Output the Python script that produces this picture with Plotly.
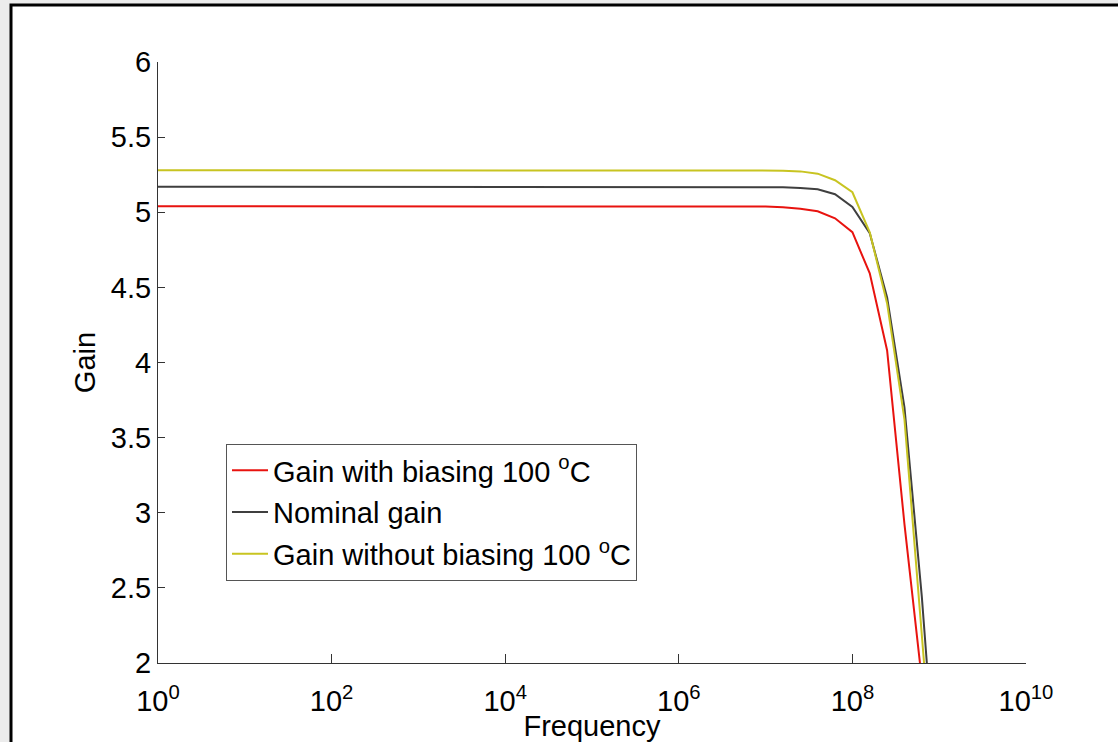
import plotly.graph_objects as go

# ---- data ----
freq = [1e0, 1e1, 1e2, 1e3, 1e4, 1e5, 1e6, 1e7,
        1.585e7, 2.512e7, 3.981e7, 6.310e7, 1e8,
        1.585e8, 2.512e8, 3.981e8, 6.310e8, 1e9]

gain_biasing = [5.04, 5.04, 5.04, 5.04, 5.04, 5.04, 5.04, 5.038,
                5.033, 5.023, 5.007, 4.96, 4.867,
                4.593, 4.08, 2.923, 1.887, 0.8]

gain_nominal = [5.17, 5.169, 5.169, 5.168, 5.168, 5.168, 5.168, 5.168,
                5.167, 5.162, 5.153, 5.12, 5.035,
                4.86, 4.433, 3.70, 2.44, 0.91]

gain_no_bias = [5.28, 5.28, 5.28, 5.28, 5.28, 5.28, 5.28, 5.28,
                5.277, 5.272, 5.257, 5.213, 5.133,
                4.867, 4.393, 3.62, 2.287, 0.75]

names = ["Gain with biasing 100 <sup>o</sup>C",
         "Nominal gain",
         "Gain without biasing 100 <sup>o</sup>C"]
colors = ["#e8130f", "#3f3f3f", "#c8c421"]

xtick_vals = [1e0, 1e2, 1e4, 1e6, 1e8, 1e10]
xtick_text = ["10<sup>0</sup>", "10<sup>2</sup>", "10<sup>4</sup>",
              "10<sup>6</sup>", "10<sup>8</sup>", "10<sup>10</sup>"]
ytick_vals = [2, 2.5, 3, 3.5, 4, 4.5, 5, 5.5, 6]
ytick_text = ["2", "2.5", "3", "3.5", "4", "4.5", "5", "5.5", "6"]

# ---- figure ----
W, H = 1118, 742
L, R, T, B = 158, 92, 62, 79
pw, ph = W - L - R, H - T - B
FS = 29

fig = go.Figure()
for i, ys in enumerate([gain_biasing, gain_nominal, gain_no_bias]):
    fig.add_trace(go.Scatter(
        x=freq, y=ys, mode="lines", name=names[i],
        line=dict(color=colors[i], width=2),
        legendgroup=str(i),
    ))

font = "Liberation Sans, Arial, Helvetica, sans-serif"

def px_x(p):
    return (p - L) / pw

def px_y(p):
    return (H - B - p) / ph

fig.update_layout(
    width=W, height=H,
    margin=dict(l=L, r=R, t=T, b=B, autoexpand=False),
    paper_bgcolor="#ececec",
    plot_bgcolor="white",
    font=dict(family=font, size=FS, color="black"),
    showlegend=True,
    legend=dict(
        x=px_x(226), y=px_y(444), xanchor="left", yanchor="top",
        bgcolor="white", bordercolor="#555555", borderwidth=1,
        font=dict(family=font, size=FS, color="black"),
        tracegroupgap=1, itemwidth=36,
    ),
    shapes=[dict(
        type="rect", xref="paper", yref="paper", layer="below",
        x0=px_x(11), x1=px_x(W + 20), y0=px_y(H + 20), y1=px_y(5),
        line=dict(color="black", width=3), fillcolor="white",
    )],
    xaxis=dict(
        type="log", range=[0, 10], automargin=False,
        tickvals=xtick_vals, ticktext=xtick_text,
        ticks="inside", ticklen=9, tickcolor="#333333", tickwidth=1,
        showline=True, linecolor="#333333", linewidth=1,
        showgrid=False, zeroline=False, mirror=False,
        tickfont=dict(family=font, size=FS, color="black"),
        ticklabelstandoff=12,
        title=dict(text="Frequency", standoff=0,
                   font=dict(family=font, size=FS, color="black")),
    ),
    yaxis=dict(
        range=[2, 6], automargin=False,
        tickvals=ytick_vals, ticktext=ytick_text,
        ticks="inside", ticklen=7, tickcolor="#333333", tickwidth=1,
        showline=True, linecolor="#333333", linewidth=1,
        showgrid=False, zeroline=False, mirror=False,
        tickfont=dict(family=font, size=FS, color="black"),
        title=dict(text="Gain", standoff=6,
                   font=dict(family=font, size=FS, color="black")),
    ),
)

fig.write_html(
    "out.html",
    config={"displayModeBar": False},
    post_script="document.body.style.margin='0';document.body.style.overflow='hidden';",
)
